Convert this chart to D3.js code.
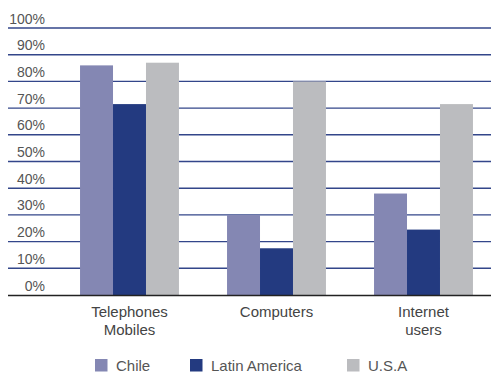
<!DOCTYPE html>
<html>
<head>
<meta charset="utf-8">
<script src="https://cdn.jsdelivr.net/npm/d3@7"></script>
<style>
  html, body { margin: 0; padding: 0; background: #fff; }
  svg { display: block; font-family: "Liberation Sans", Arial, sans-serif; }
</style>
</head>
<body>
<svg id="chart" width="491" height="373"></svg>
<script>
// Categories (two-line labels) and series
const categories = ["Telephones Mobiles", "Computers", "Internet users"];
const categoryLines = [["Telephones", "Mobiles"], ["Computers"], ["Internet", "users"]];
const seriesNames = ["Chile", "Latin America", "U.S.A"];
const chile = [86, 30, 38];
const latinAmerica = [71.5, 17.5, 24.5];
const usa = [87, 80, 71.5];
const tickValues = [0, 10, 20, 30, 40, 50, 60, 70, 80, 90, 100];
const colors = ["#8487b3", "#233a80", "#bbbcbf"];

const seriesValues = [chile, latinAmerica, usa];

const svg = d3.select("#chart");

const y = d3.scaleLinear().domain([0, 100]).range([295, 28]);
const x = d3.scaleBand().domain(categories).range([56, 497])
  .paddingInner(0.327).paddingOuter(0.1635);
const xs = d3.scaleBand().domain(seriesNames).range([0, x.bandwidth()]);

// Horizontal gridlines
svg.append("g").selectAll("line")
  .data(tickValues.filter(d => d > 0))
  .join("line")
  .attr("x1", 8).attr("x2", 491)
  .attr("y1", d => y(d)).attr("y2", d => y(d))
  .attr("stroke", "#33468a")
  .attr("stroke-width", 1.4);

// Tick labels sit just above their gridline, right-aligned
svg.append("g").selectAll("text")
  .data(tickValues)
  .join("text")
  .attr("x", 45)
  .attr("y", d => y(d) - 4.5)
  .attr("text-anchor", "end")
  .attr("font-size", 14)
  .attr("fill", "#555")
  .text(d => d + "%");

// Bars
const groups = svg.append("g").selectAll("g")
  .data(categories)
  .join("g")
  .attr("transform", c => `translate(${x(c)},0)`);

groups.selectAll("rect")
  .data((c, i) => seriesNames.map((s, j) => ({ s, j, v: seriesValues[j][i] })))
  .join("rect")
  .attr("x", d => xs(d.s))
  .attr("width", xs.bandwidth())
  .attr("y", d => y(d.v))
  .attr("height", d => y(0) - y(d.v))
  .attr("fill", d => colors[d.j]);

// Baseline
svg.append("line")
  .attr("x1", 8).attr("x2", 491)
  .attr("y1", y(0) + 0.5).attr("y2", y(0) + 0.5)
  .attr("stroke", "#222")
  .attr("stroke-width", 1.6);

// Category labels
const catLabels = svg.append("g").selectAll("text")
  .data(categories)
  .join("text")
  .attr("text-anchor", "middle")
  .attr("font-size", 15)
  .attr("fill", "#444");
catLabels.selectAll("tspan")
  .data((c, i) => categoryLines[i].map(t => ({ t, c })))
  .join("tspan")
  .attr("x", d => x(d.c) + x.bandwidth() / 2)
  .attr("y", (d, k) => 316.5 + k * 18.5)
  .text(d => d.t);

// Legend
const legendX = [95, 190, 347];
const legend = svg.append("g").selectAll("g")
  .data(seriesNames)
  .join("g")
  .attr("transform", (d, i) => `translate(${legendX[i]},359)`);
legend.append("rect")
  .attr("width", 12.5).attr("height", 12.5)
  .attr("fill", (d, i) => colors[i]);
legend.append("text")
  .attr("x", 21).attr("y", 12)
  .attr("font-size", 15)
  .attr("fill", "#555")
  .text(d => d);
</script>
</body>
</html>
